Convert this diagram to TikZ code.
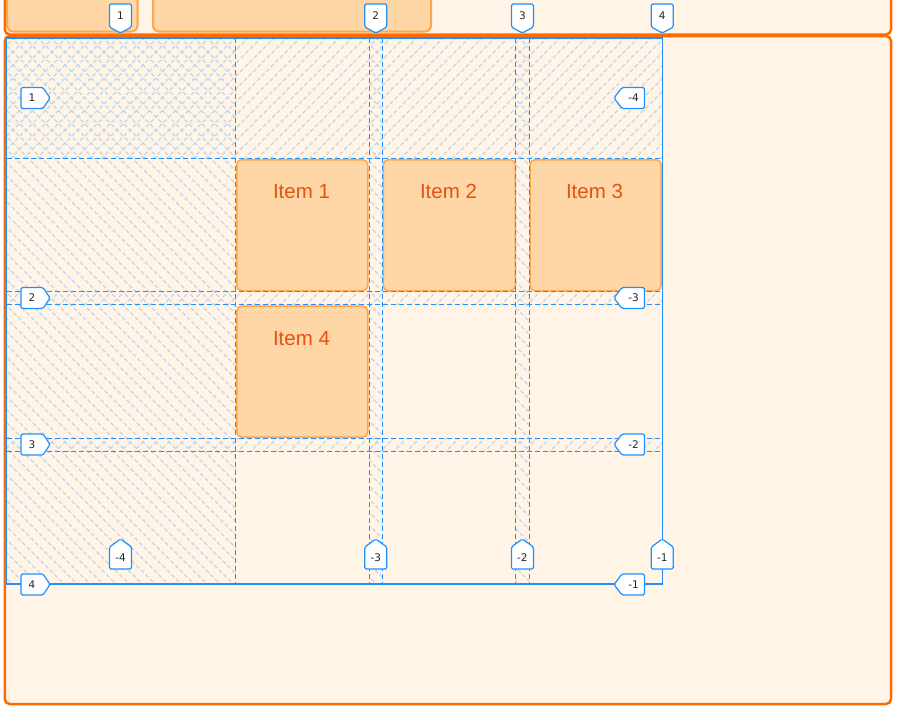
\documentclass[tikz,border=0pt]{standalone}
\usepackage{fontspec}
\setmainfont{Liberation Sans}
\newfontfamily\tagfont{DejaVu Sans}
\definecolor{cream}{RGB}{255,244,230}
\definecolor{panelor}{RGB}{255,106,0}
\definecolor{peach}{RGB}{255,214,165}
\definecolor{peachline}{RGB}{255,166,77}
\definecolor{itemtext}{RGB}{230,81,20}
\definecolor{gridblue}{RGB}{30,144,255}
\definecolor{hatchc}{RGB}{190,214,240}
\tikzset{
  panel/.style={draw=panelor, line width=2.5pt, fill=cream, rounded corners=5pt},
  topbox/.style={draw=peachline, line width=2pt, fill=peach, rounded corners=6pt, inner sep=0pt},
  itembox/.style={draw=peachline, line width=1.5pt, fill=peach, rounded corners=5pt, inner sep=0pt, anchor=north west},
  itemlabel/.style={text=itemtext, font=\fontsize{20.5}{24}\selectfont, inner sep=0pt},
  gridline/.style={draw=gridblue, line width=1pt, dash pattern=on 5pt off 3pt},
  gridborder/.style={draw=gridblue, line width=1.2pt},
  hatchline/.style={draw=hatchc, line width=1.2pt, dash pattern=on 4pt off 2.5pt},
  tagshape/.style={draw=gridblue, line width=1.2pt, fill=white, rounded corners=1.5pt},
  tagtext/.style={font=\tagfont\fontsize{10.5}{12}\selectfont, inner sep=0pt, text=black!85},
}
% tag pointing down: name, cx, tip y, text
\newcommand\tagdown[4]{%
  \draw[tagshape] ({#2-11},{#3-29}) -- ({#2+11},{#3-29}) -- ({#2+11},{#3-6}) -- (#2,#3) -- ({#2-11},{#3-6}) -- cycle;
  \node[tagtext] (#1) at (#2,{#3-17.5}) {#4};}
% tag pointing up
\newcommand\tagup[4]{%
  \draw[tagshape] ({#2-11},{#3+30}) -- ({#2+11},{#3+30}) -- ({#2+11},{#3+8}) -- (#2,#3) -- ({#2-11},{#3+8}) -- cycle;
  \node[tagtext] (#1) at (#2,{#3+19}) {#4};}
% tag pointing right: name, tip x, cy, text
\newcommand\tagright[4]{%
  \draw[tagshape] ({#2-29},{#3-10.5}) -- ({#2-7},{#3-10.5}) -- (#2,#3) -- ({#2-7},{#3+10.5}) -- ({#2-29},{#3+10.5}) -- cycle;
  \node[tagtext] (#1) at ({#2-18},#3) {#4};}
% tag pointing left
\newcommand\tagleft[4]{%
  \draw[tagshape] ({#2+30.5},{#3-10.5}) -- ({#2+8},{#3-10.5}) -- (#2,#3) -- ({#2+8},{#3+10.5}) -- ({#2+30.5},{#3+10.5}) -- cycle;
  \node[tagtext] (#1) at ({#2+19.5},#3) {#4};}
% hatching
\newcommand\hatchNE[4]{%
  \begin{scope}
    \clip (#1,#2) rectangle (#3,#4);
    \foreach \c in {0,13,...,1326} {\draw[hatchline] (\c,0) -- ({\c-720},720);}
  \end{scope}}
\newcommand\hatchSE[4]{%
  \begin{scope}
    \clip (#1,#2) rectangle (#3,#4);
    \foreach \c in {-728,-715,...,702} {\draw[hatchline] (\c,0) -- ({\c+720},720);}
  \end{scope}}
\begin{document}
\begin{tikzpicture}[x=1pt,y=-1pt]
\useasboundingbox (0,0) rectangle (900,724);
\clip (0,0) rectangle (900,724);
\fill[white] (0,0) rectangle (900,724);
% top panel
\draw[panel] (4.75,-30) rectangle (891,34.5);
\node[topbox, anchor=south west, minimum width=130.5pt, minimum height=60pt] (boxa) at (6,32.5) {};
\node[topbox, anchor=south west, minimum width=278pt, minimum height=60pt] (boxb) at (152,32.5) {};
% main panel
\draw[panel] (4.75,36) rectangle (891,704);
% hatching: rows
\hatchNE{6.5}{38}{662}{158.3}
\hatchNE{6.5}{291.3}{662}{304.3}
\hatchNE{6.5}{438.3}{662}{451.7}
% hatching: columns
\hatchSE{6.5}{38}{235.5}{584}
\hatchSE{369.3}{38}{382.5}{584}
\hatchSE{515.7}{38}{529.3}{584}
% items
\node[itembox, minimum width=131pt, minimum height=131pt] (item1) at (236,159) {};
\node[itembox, minimum width=132pt, minimum height=131pt] (item2) at (382.5,159) {};
\node[itembox, minimum width=131pt, minimum height=131pt] (item3) at (529.3,159) {};
\node[itembox, minimum width=131pt, minimum height=131pt] (item4) at (236,305.3) {};
\node[itemlabel] (t1) at (301.5,191.5) {Item 1};
\node[itemlabel] (t2) at (448.5,191.5) {Item 2};
\node[itemlabel] (t3) at (594.5,191.5) {Item 3};
\node[itemlabel] (t4) at (301.5,338.5) {Item 4};
% grid lines
\foreach \gx in {235.5,369.3,382.5,515.7,529.3} {\draw[gridline] (\gx,38) -- (\gx,584);}
\foreach \gy in {158.3,291.3,304.3,438.3,451.7} {\draw[gridline] (6.5,\gy) -- (662,\gy);}
\draw[gridborder] (6.5,38) rectangle (662.3,584);
% tags
\tagdown{c1}{120.5}{33}{1}
\tagdown{c2}{375.8}{33}{2}
\tagdown{c3}{522.4}{33}{3}
\tagdown{c4}{662.3}{33}{4}
\tagup{cm4}{120.5}{539}{-4}
\tagup{cm3}{375.8}{539}{-3}
\tagup{cm2}{522.4}{539}{-2}
\tagup{cm1}{662.3}{539}{-1}
\tagright{r1}{50}{98}{1}
\tagright{r2}{50}{298}{2}
\tagright{r3}{50}{444.5}{3}
\tagright{r4}{50}{584.5}{4}
\tagleft{rm4}{614}{98}{-4}
\tagleft{rm3}{614}{298}{-3}
\tagleft{rm2}{614}{444.5}{-2}
\tagleft{rm1}{614}{584.5}{-1}
\end{tikzpicture}
\end{document}
